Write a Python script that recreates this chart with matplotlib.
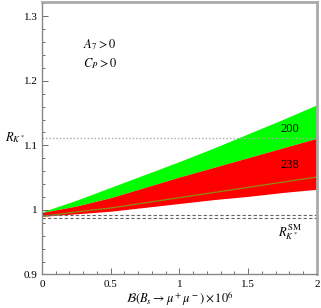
import matplotlib
matplotlib.use("Agg")
import matplotlib.pyplot as plt
from matplotlib.ticker import MultipleLocator, FixedLocator

plt.rcParams['mathtext.fontset'] = 'stix'
plt.rcParams['font.family'] = ['Liberation Serif', 'DejaVu Serif']

x = [0, 0.25, 0.5, 0.75, 1.0, 1.25, 1.5, 1.75, 2.0]
green_top = [0.997, 1.015, 1.035, 1.055, 1.075, 1.096, 1.118, 1.140, 1.163]
red_top = [0.996, 1.006, 1.019, 1.035, 1.051, 1.066, 1.081, 1.096, 1.111]
red_bottom = [0.990, 0.994, 0.998, 1.004, 1.010, 1.016, 1.021, 1.027, 1.032]
central = [0.990, 0.997, 1.003, 1.011, 1.019, 1.027, 1.035, 1.043, 1.051]
exp_line = 1.112
sm_lines = [0.992, 0.987]

fig = plt.figure(figsize=(3.21, 3.08), dpi=100)
ax = fig.add_axes([0.1308, 0.1088, 0.8567, 0.8847])

ax.fill_between(x, red_top, green_top, color='#00ff00', linewidth=0)
ax.fill_between(x, red_bottom, red_top, color='#ff0000', linewidth=0)
ax.plot(x, central, color='#8f8a10', linewidth=0.9)
ax.axhline(exp_line, color='#aaaaaa', linestyle=(0, (1, 1.5)), linewidth=1.0)
for v in sm_lines:
    ax.axhline(v, color='#666666', linestyle=(0, (3, 2)), linewidth=0.8)

ax.set_xlim(0, 2)
ax.set_ylim(0.9, 1.322)
ax.xaxis.set_major_locator(FixedLocator([0, 0.5, 1, 1.5, 2]))
ax.xaxis.set_minor_locator(MultipleLocator(0.1))
ax.yaxis.set_major_locator(FixedLocator([0.9, 1.0, 1.1, 1.2, 1.3]))
ax.yaxis.set_minor_locator(MultipleLocator(0.02))
ax.set_xticklabels(['0', '0.5', '1', '1.5', '2'])
ax.set_yticklabels(['0.9', '1', '1.1', '1.2', '1.3'])
ax.tick_params(which='both', direction='in', color='#555555', labelsize=8)
ax.tick_params(which='major', length=4, width=0.6)
ax.tick_params(which='minor', length=2.5, width=0.6)
ax.tick_params(axis='x', pad=4)
ax.tick_params(axis='y', pad=3)

for side in ['left', 'bottom']:
    ax.spines[side].set_color('#888888')
    ax.spines[side].set_linewidth(1.0)
for side in ['top', 'right']:
    ax.spines[side].set_color('#aaaaaa')
    ax.spines[side].set_linewidth(2.0)

ax.text(0.42, 1.256, r'$A_7 > 0$', fontsize=9, ha='center', va='center')
ax.text(0.42, 1.227, r'$C_P > 0$', fontsize=9, ha='center', va='center')
ax.text(1.8, 1.125, '200', fontsize=9, ha='center', va='center')
ax.text(1.8, 1.069, '238', fontsize=9, ha='center', va='center')
ax.text(1.8, 0.966, r'$R_{K^*}^{\mathrm{SM}}$', fontsize=9, ha='center', va='center')
fig.text(15/321, 1 - 138/308, r'$R_{K^*}$', fontsize=9, ha='center', va='center')
fig.text(180/321, 1 - 299/308, r'$\mathcal{B}(B_s \to \mu^+\mu^-)\times 10^6$', fontsize=9,
         ha='center', va='center')

fig.savefig('out.png', dpi=100)
